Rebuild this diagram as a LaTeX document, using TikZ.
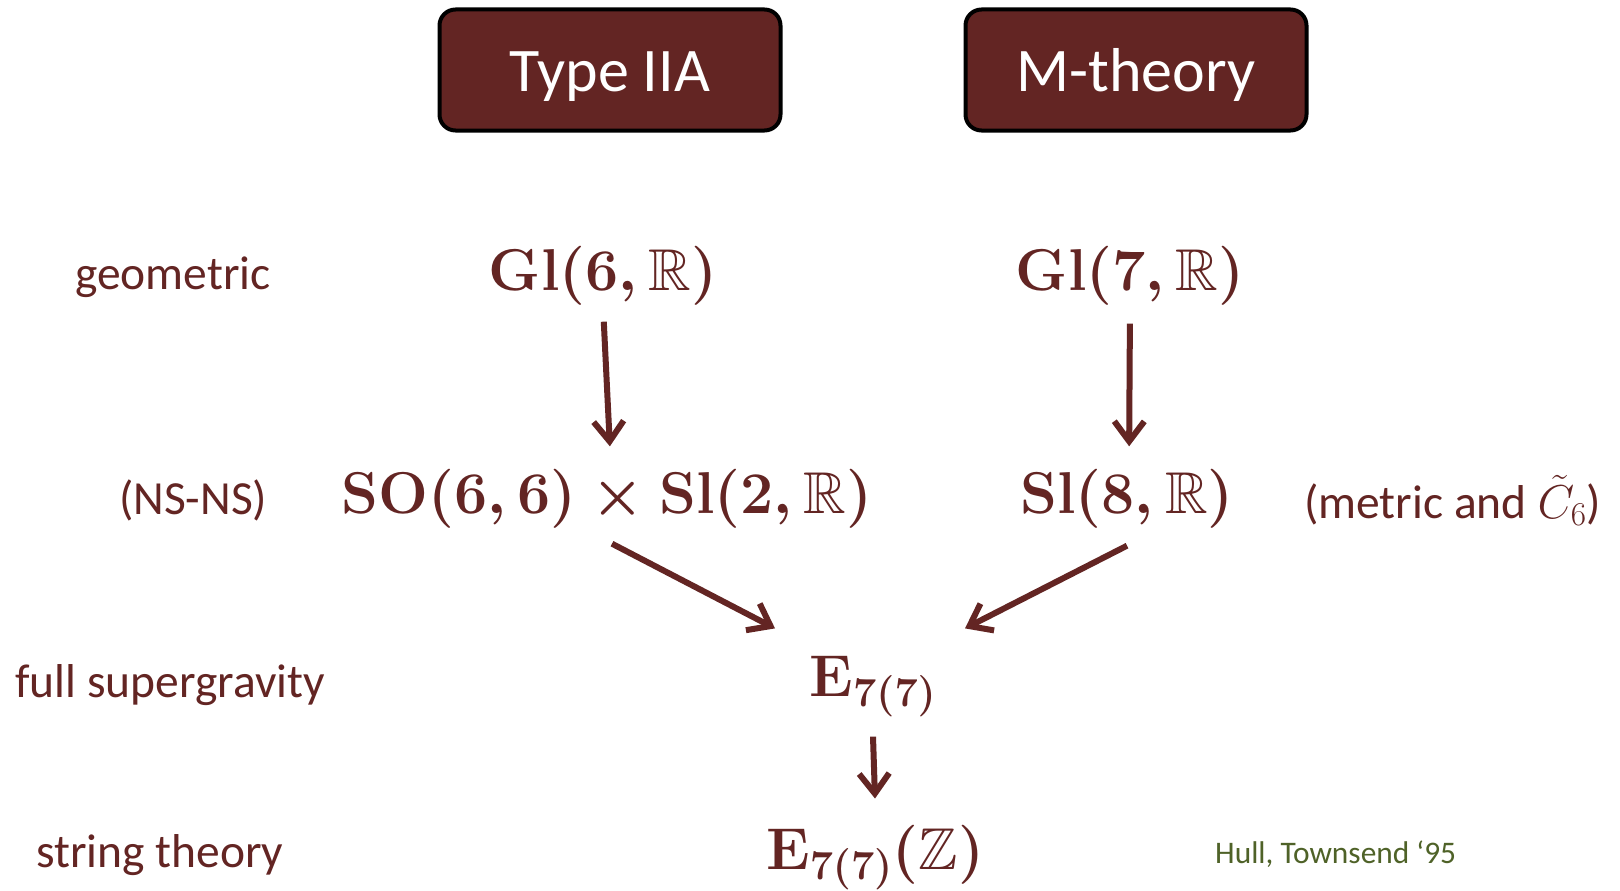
\RequirePackage{fix-cm}
\documentclass[tikz,border=0pt]{standalone}
\usepackage{amsmath,amssymb}
\usepackage{fontspec}
\setmainfont{Carlito}
\usetikzlibrary{arrows.meta}
\definecolor{dred}{HTML}{632523}
\definecolor{dgreen}{HTML}{4F6228}
\begin{document}
\begin{tikzpicture}[x=1pt,y=-1pt,
  theory/.style={draw=black, line width=4pt, fill=dred, rounded corners=16pt, minimum width=341pt, minimum height=121pt, inner sep=0},
  boxtext/.style={text=white, font=\fontsize{62}{70}\selectfont, inner sep=0, anchor=base},
  lbl/.style={text=dred, font=\fontsize{47.5}{56}\selectfont, inner sep=0, anchor=west},
  grp/.style={text=dred, font=\fontsize{59}{70}\selectfont\boldmath, inner sep=0},
  arr/.style={draw=dred, line width=6pt, -{Straight Barb[length=20pt,width=30pt]}}]
\useasboundingbox (0,0) rectangle (1620,891);
\fill[white] (0,0) rectangle (1620,891);
% theory boxes
\node[theory] (iiabox) at (610,70) {};
\node[boxtext] (iia) at (610,92) {Type IIA};
\node[theory] (mbox) at (1136,70) {};
\node[boxtext] (m) at (1136,92) {M-theory};
% row labels
\node[lbl] (geo) at (75,277) {geometric};
\node[lbl] (nsns) at (119,500) {(NS-NS)};
\node[lbl] (sugra) at (15,685) {full supergravity};
\node[lbl] (string) at (36,855) {string theory};
\node[lbl] (metric) at (1304,500) {(metric and $\tilde{C}_6$)};
\node[text=dgreen, font=\fontsize{31.4}{36}\selectfont, inner sep=0, anchor=west] (hull) at (1215,854) {Hull, Townsend ‘95};
% groups
\node[grp] (gl6) at (603,276) {$\mathbf{Gl}(6,\mathbb{R})$};
\node[grp] (gl7) at (1130,276) {$\mathbf{Gl}(7,\mathbb{R})$};
\node[grp] (so) at (607,499) {$\mathbf{SO}(6,6)\times\mathbf{Sl}(2,\mathbb{R})$};
\node[grp] (sl8) at (1127,499) {$\mathbf{Sl}(8,\mathbb{R})$};
\node[grp] (e7) at (873,686) {$\mathbf{E}_{7(7)}$};
\node[grp] (e7z) at (875,858) {$\mathbf{E}_{7(7)}(\mathbb{Z})$};
% arrows
\draw[arr, shorten <=16pt, shorten >=23pt] (gl6.south) -- ([xshift=4pt]so.north);
\draw[arr, shorten <=18pt, shorten >=23pt] (gl7.south) -- ([xshift=2pt]sl8.north);
\draw[arr] ([xshift=5pt,yshift=-15pt]so.south) -- ([xshift=-98pt,yshift=27pt]e7.north);
\draw[arr] ([yshift=-17pt]sl8.south) -- ([xshift=92pt,yshift=27pt]e7.north);
\draw[arr] ([yshift=-20pt]e7.south) -- ([yshift=27pt]e7z.north);
\end{tikzpicture}
\end{document}
